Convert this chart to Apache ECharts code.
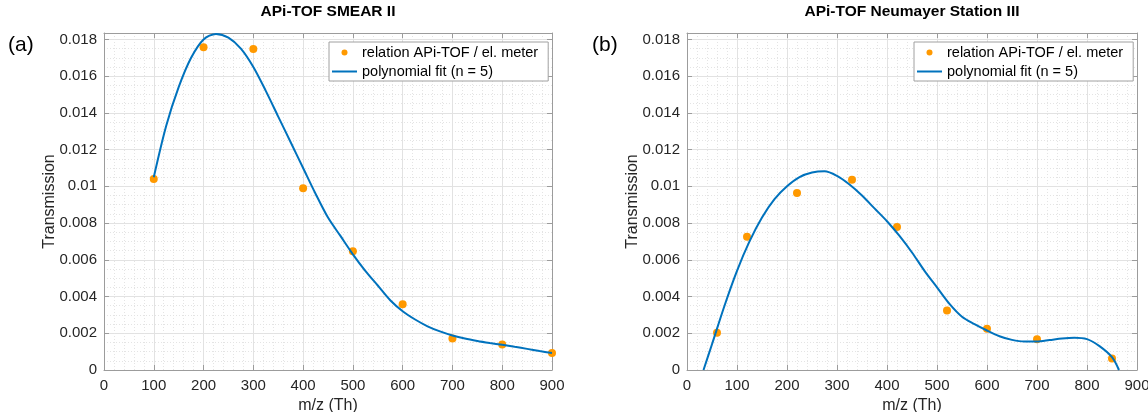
<!DOCTYPE html>
<html>
<head>
<meta charset="utf-8">
<script src="https://cdn.jsdelivr.net/npm/echarts@6/dist/echarts.min.js"></script>
<style>
html,body{margin:0;padding:0;background:#fff;}
#c{width:1148px;height:412px;}
</style>
</head>
<body>
<div id="c"></div>
<script>
// ---- data ----
const panelLabels = ['(a)', '(b)'];
const panelTitles = ['APi-TOF SMEAR II', 'APi-TOF Neumayer Station III'];
const seriesNames = ['relation APi-TOF / el. meter', 'polynomial fit (n = 5)'];
const xTicks = [0, 100, 200, 300, 400, 500, 600, 700, 800, 900];
const yTicks = [0, 0.002, 0.004, 0.006, 0.008, 0.01, 0.012, 0.014, 0.016, 0.018];

// (a) SMEAR II : measured points
const smearX = [100, 200, 300, 400, 500, 600, 700, 800, 900];
const smearY = [0.0104, 0.01757, 0.01748, 0.0099, 0.00647, 0.00358, 0.00171, 0.00139, 0.00093];
// (a) fitted curve
const smearFitX = [100, 125, 150, 175, 200, 225, 250, 275, 300, 325, 350, 375, 400, 425, 450, 475, 500, 525, 550, 575, 600, 625, 650, 675, 700, 725, 750, 775, 800, 825, 850, 875, 900];
const smearFitY = [0.0105, 0.0133, 0.0154, 0.0170, 0.0180, 0.0183, 0.0181, 0.0175, 0.0165, 0.0152, 0.0138, 0.0124, 0.0110, 0.0096, 0.0083, 0.0073, 0.0063, 0.0054, 0.0046, 0.0038, 0.0032, 0.00275, 0.00238, 0.0021, 0.00188, 0.00171, 0.00158, 0.00147, 0.00137, 0.00126, 0.00115, 0.00103, 0.00092];

// (b) Neumayer Station III : measured points
const neuX = [60, 120, 220, 330, 420, 520, 600, 700, 850];
const neuY = [0.00203, 0.00725, 0.00964, 0.01036, 0.00779, 0.00324, 0.00224, 0.00168, 0.00062];
// (b) fitted curve
const neuFitX = [33, 50, 75, 100, 125, 150, 175, 200, 225, 250, 275, 300, 325, 350, 375, 400, 425, 450, 475, 500, 525, 550, 575, 600, 625, 650, 675, 700, 725, 750, 775, 800, 825, 850, 864];
const neuFitY = [0, 0.0014, 0.0035, 0.0054, 0.0070, 0.0083, 0.0093, 0.0100, 0.0105, 0.01075, 0.01082, 0.01057, 0.0101, 0.0095, 0.0088, 0.0081, 0.0073, 0.0064, 0.0054, 0.0045, 0.0036, 0.0029, 0.0025, 0.00215, 0.00184, 0.00164, 0.00155, 0.00155, 0.00163, 0.00172, 0.00176, 0.00168, 0.0013, 0.0007, 0];

const FONT = "'Liberation Sans', Arial, Helvetica, sans-serif";
const zip = (xs, ys) => xs.map((x, i) => [x, ys[i]]);

const grids = [
  {left: 104, top: 33, width: 448, height: 337, outerBoundsMode: 'none', containLabel: false},
  {left: 687, top: 33, width: 450, height: 337, outerBoundsMode: 'none', containLabel: false}
];
const Y_MAX = 0.01835;
const AX = '#9c9c9c';

function xMain(g, name) {
  return {
    gridIndex: g, type: 'value', min: xTicks[0], max: xTicks[xTicks.length - 1], interval: xTicks[1] - xTicks[0],
    axisLine: {show: true, onZero: false, lineStyle: {color: AX, width: 1}},
    axisTick: {show: true, inside: true, length: 5, lineStyle: {color: AX}},
    axisLabel: {color: '#262626', fontSize: 15, fontFamily: FONT, margin: 8},
    splitLine: {show: true, lineStyle: {color: '#e2e2e2', width: 1}},
    minorTick: {show: false, splitNumber: 5},
    minorSplitLine: {show: true, lineStyle: {color: '#e4e4e4', width: 1, type: [1, 2]}},
    name: name, nameLocation: 'middle', nameGap: 27,
    nameTextStyle: {color: '#262626', fontSize: 16, fontFamily: FONT}
  };
}
function xTop(g) {
  return {
    gridIndex: g, type: 'value', position: 'top', min: xTicks[0], max: xTicks[xTicks.length - 1], interval: xTicks[1] - xTicks[0],
    axisLine: {show: true, onZero: false, lineStyle: {color: AX, width: 1}},
    axisTick: {show: true, inside: true, length: 5, lineStyle: {color: AX}},
    axisLabel: {show: false}, splitLine: {show: false}
  };
}
function yMain(g, name) {
  return {
    gridIndex: g, type: 'value', min: yTicks[0], max: Y_MAX, interval: yTicks[1] - yTicks[0],
    axisLine: {show: true, onZero: false, lineStyle: {color: AX, width: 1}},
    axisTick: {show: true, inside: true, length: 5, lineStyle: {color: AX}},
    axisLabel: {color: '#262626', fontSize: 15, fontFamily: FONT, margin: 7,
      formatter: v => (v > yTicks[yTicks.length - 1] + 1e-6) ? '' : String(parseFloat(v.toFixed(4)))},
    splitLine: {show: true, lineStyle: {color: '#e2e2e2', width: 1}},
    minorTick: {show: false, splitNumber: 4},
    minorSplitLine: {show: true, lineStyle: {color: '#e4e4e4', width: 1, type: [1, 2]}},
    name: name, nameLocation: 'middle', nameGap: 46, nameMoveOverlap: false,
    nameTextStyle: {color: '#262626', fontSize: 16, fontFamily: FONT}
  };
}
function yRight(g) {
  return {
    gridIndex: g, type: 'value', position: 'right', min: yTicks[0], max: Y_MAX, interval: yTicks[1] - yTicks[0],
    axisLine: {show: true, onZero: false, lineStyle: {color: AX, width: 1}},
    axisTick: {show: true, inside: true, length: 5, lineStyle: {color: AX}},
    axisLabel: {show: false}, splitLine: {show: false}
  };
}
function legend(leftPx) {
  return {
    left: leftPx, top: 42, orient: 'vertical', selectedMode: false,
    data: [
      {name: seriesNames[0], icon: 'circle', itemStyle: {color: '#ff9900', opacity: 1}},
      {name: seriesNames[1], icon: 'path://M0,0 H25 V2 H0 Z', itemStyle: {color: '#0072bd'}}
    ],
    itemWidth: 25, itemHeight: 6, itemGap: 4,
    textStyle: {color: '#000', fontSize: 14.5, fontFamily: FONT},
    borderColor: '#a0a0a0', borderWidth: 1, borderRadius: 0,
    backgroundColor: '#fff', padding: [3, 10, 2, 3]
  };
}
function scatter(xi, yi, xs, ys) {
  return {type: 'scatter', name: seriesNames[0], xAxisIndex: xi, yAxisIndex: yi,
    data: zip(xs, ys), symbolSize: 8, itemStyle: {color: '#ff9900', opacity: 1}, z: 3, animation: false};
}
function fit(xi, yi, xs, ys) {
  return {type: 'line', name: seriesNames[1], xAxisIndex: xi, yAxisIndex: yi,
    data: zip(xs, ys), showSymbol: false, symbol: 'none', smooth: 0.3,
    lineStyle: {color: '#0072bd', width: 2}, itemStyle: {color: '#0072bd'}, z: 4, animation: false, clip: true};
}

const chart = echarts.init(document.getElementById('c'), null, {renderer: 'canvas'});
chart.setOption({
  animation: false,
  backgroundColor: '#fff',
  grid: grids,
  xAxis: [xMain(0, 'm/z (Th)'), xTop(0), xMain(1, 'm/z (Th)'), xTop(1)],
  yAxis: [yMain(0, 'Transmission'), yRight(0), yMain(1, 'Transmission'), yRight(1)],
  legend: [legend(329), legend(914)],
  series: [
    scatter(0, 0, smearX, smearY), fit(0, 0, smearFitX, smearFitY),
    scatter(2, 2, neuX, neuY), fit(2, 2, neuFitX, neuFitY)
  ],
  graphic: [
    {type: 'text', x: 328, y: 12, style: {text: panelTitles[0], align: 'center', verticalAlign: 'middle', textAlign: 'center', textVerticalAlign: 'middle', font: 'bold 15.5px ' + FONT, fill: '#000'}},
    {type: 'text', x: 912, y: 12, style: {text: panelTitles[1], align: 'center', verticalAlign: 'middle', textAlign: 'center', textVerticalAlign: 'middle', font: 'bold 15.5px ' + FONT, fill: '#000'}},
    {type: 'text', x: 8, y: 45, style: {text: panelLabels[0], verticalAlign: 'middle', textVerticalAlign: 'middle', font: '21px ' + FONT, fill: '#000'}},
    {type: 'text', x: 592, y: 45, style: {text: panelLabels[1], verticalAlign: 'middle', textVerticalAlign: 'middle', font: '21px ' + FONT, fill: '#000'}}
  ]
});
</script>
</body>
</html>
